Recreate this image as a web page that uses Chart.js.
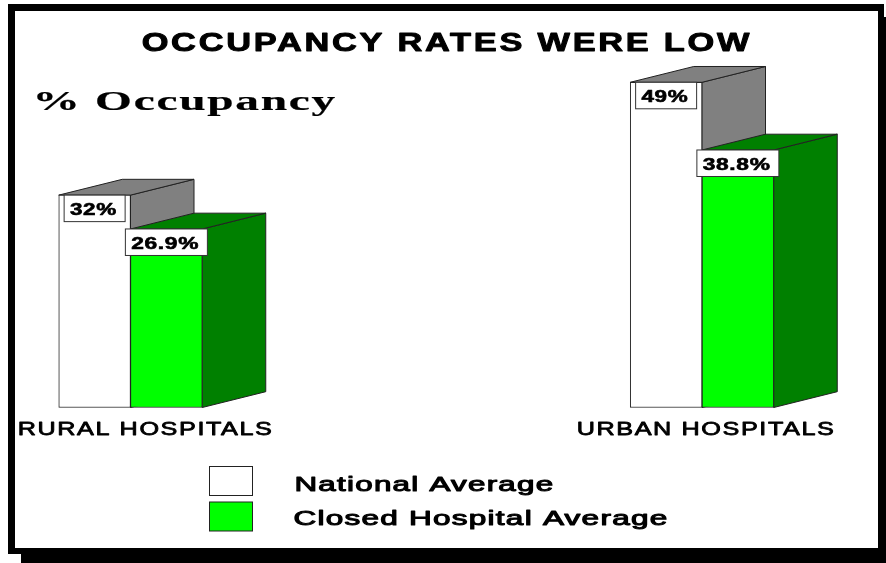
<!DOCTYPE html>
<html><head><meta charset="utf-8">
<style>html,body{margin:0;padding:0;background:#fff;overflow:hidden}canvas{display:block}#w{position:absolute;left:0;top:0;width:886px;height:563px}</style>
<script src="https://cdn.jsdelivr.net/npm/chart.js@4"></script>
</head><body><div id="w"><canvas id="c" width="886" height="563"></canvas></div>
<script>
const categories = ["RURAL HOSPITALS", "URBAN HOSPITALS"];
const seriesNames = ["National Average", "Closed Hospital Average"];
const nationalValues = [32, 49];
const closedValues = [26.9, 38.8];
const valueLabels = [["32%", "49%"], ["26.9%", "38.8%"]];
const titleText = "OCCUPANCY RATES WERE LOW";
const axisText = "% Occupancy";

const FACE = [{side:"#808080"},{side:"#008000"}];
const DX = 63.5, DY = -15.8, EDGE = "#222";

function stretched(ctx, text, left, right, baseline, font, spacing, stroke) {
  ctx.save();
  ctx.font = font; ctx.fillStyle = "#000";
  ctx.letterSpacing = spacing + "px";
  ctx.textAlign = "left"; ctx.textBaseline = "alphabetic";
  const m = ctx.measureText(text);
  const inkLeft = -m.actualBoundingBoxLeft, inkRight = m.actualBoundingBoxRight;
  const sx = (right - left) / (inkRight - inkLeft);
  ctx.translate(left - inkLeft * sx, baseline);
  ctx.scale(sx, 1);
  ctx.fillText(text, 0, 0);
  if (stroke) { ctx.lineWidth = stroke; ctx.strokeStyle = "#000"; ctx.lineJoin = "round"; ctx.strokeText(text, 0, 0); }
  ctx.restore();
}
function poly(ctx, pts, fill) {
  ctx.beginPath();
  pts.forEach((p, i) => i ? ctx.lineTo(p[0], p[1]) : ctx.moveTo(p[0], p[1]));
  ctx.closePath();
  ctx.fillStyle = fill; ctx.fill();
  ctx.lineWidth = 1; ctx.strokeStyle = EDGE; ctx.stroke();
}
const frame = {
  id: "frame",
  beforeDraw(chart) {
    const c = chart.ctx;
    c.save();
    c.fillStyle = "#fff"; c.fillRect(0, 0, 886, 563);
    c.fillStyle = "#000";
    c.fillRect(21, 17, 865, 546);
    c.fillRect(8, 4, 876, 550);
    c.fillStyle = "#fff"; c.fillRect(15, 11, 863, 537);
    c.restore();
  }
};
const faces = {
  id: "faces",
  beforeDatasetsDraw(chart) {
    const c = chart.ctx;
    c.save();
    [0, 1].forEach(d => {
      chart.getDatasetMeta(d).data.forEach(b => {
        const l = b.x - b.width / 2, r = b.x + b.width / 2, t = b.y, base = b.base;
        poly(c, [[r, t], [r + DX, t + DY], [r + DX, base + DY], [r, base]], FACE[d].side);
        poly(c, [[l, t], [l + DX, t + DY], [r + DX, t + DY], [r, t]], FACE[d].side);
      });
    });
    c.restore();
  },
  afterDatasetsDraw(chart) {
    const c = chart.ctx;
    [0, 1].forEach(d => {
      chart.getDatasetMeta(d).data.forEach((b, i) => {
        const txt = valueLabels[d][i];
        const half = d === 0 ? 30.5 : 41, top = b.y, h = 26.5;
        c.save();
        c.fillStyle = "#fff"; c.strokeStyle = "#333"; c.lineWidth = 1;
        c.fillRect(b.x - half, top, half * 2, h);
        c.strokeRect(b.x - half, top, half * 2, h);
        c.restore();
        const tw = d === 0 ? 23 : 33.5, cx = b.x - 1.75;
        stretched(c, txt, cx - tw, cx + tw, top + 20, "bold 16px 'Liberation Sans'", 0.5, 0.6);
      });
    });
    // heading, axis caption, category labels
    stretched(c, titleText, 143, 750, 51, "bold 25px 'Liberation Sans'", 2, 0.9);
    stretched(c, axisText, 36, 336, 110, "bold 27px 'Liberation Serif'", 1, 0.2);
    [[19, 271], [578, 833]].forEach((s, i) => stretched(c, categories[i], s[0], s[1], 435, "19px 'Liberation Sans'", 1.2, 0.8));
    // legend
    [[466.5, 29, "#fff"], [502, 29, "#00ff00"]].forEach(s => {
      c.save();
      c.fillStyle = s[2]; c.fillRect(209.5, s[0], 43, s[1]);
      c.strokeStyle = "#222"; c.lineWidth = 1; c.strokeRect(209.5, s[0], 43, s[1]);
      c.restore();
    });
    stretched(c, seriesNames[0], 296, 553, 491, "20px 'Liberation Sans'", 0.8, 1);
    stretched(c, seriesNames[1], 295, 667, 524.5, "20px 'Liberation Sans'", 0.8, 1);
  }
};
new Chart(document.getElementById("c"), {
  type: "bar",
  data: {
    labels: categories,
    datasets: [
      {label: seriesNames[0], data: nationalValues, backgroundColor: "#ffffff", borderColor: EDGE, borderWidth: 1, borderSkipped: false, barThickness: 71.75, clip: false},
      {label: seriesNames[1], data: closedValues, backgroundColor: "#00ff00", borderColor: EDGE, borderWidth: 1, borderSkipped: false, barThickness: 71.75, clip: false}
    ]
  },
  options: {
    responsive: false, animation: false, events: [],
    layout: {padding: {left: 130.5, right: 184, top: 0, bottom: 155.5}},
    plugins: {legend: {display: false}, title: {display: false}, tooltip: {enabled: false}},
    scales: {
      x: {display: false, offset: false},
      y: {display: false, min: 0, max: 61.4}
    }
  },
  plugins: [frame, faces]
});
</script></body></html>
